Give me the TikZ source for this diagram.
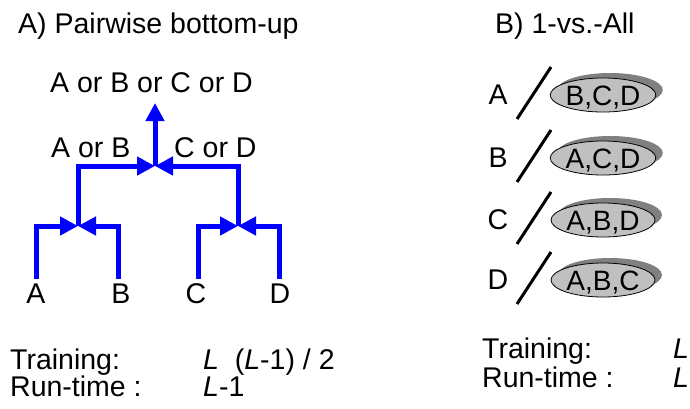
\documentclass[tikz,border=0pt]{standalone}
\usepackage{fontspec}
\setmainfont{Liberation Sans}
\usetikzlibrary{arrows.meta,shapes.geometric,shadows}
\begin{document}
\begin{tikzpicture}[x=1pt,y=-1pt,
  txt/.style={inner sep=0pt,font=\fontsize{28.5}{28.5}\selectfont},
  flow/.style={draw={rgb,255:red,0;green,0;blue,255},line width=5pt,line join=miter,
    -{Triangle[length=18pt,width=18pt]}},
  slashln/.style={draw=black,line width=3pt},
  setell/.style={ellipse,draw=black,line width=0.8pt,fill={rgb,255:red,192;green,192;blue,192},
    minimum width=104pt,minimum height=34pt,inner sep=0pt,text height=20pt,text depth=0pt,
    font=\fontsize{28}{28}\selectfont,
    general shadow={fill={rgb,255:red,128;green,128;blue,128},shadow xshift=7pt,shadow yshift=5pt}}
]
\useasboundingbox (0,0) rectangle (690,408);
\fill[white] (0,0) rectangle (690,408);

% titles
\node[txt,anchor=base west] (tA) at (18,33) {A) Pairwise bottom-up};
\node[txt,anchor=base west] (tB) at (495,33) {B) 1-vs.-All};

% left tree labels
\node[txt,anchor=base] (la) at (36,303) {A};
\node[txt,anchor=base] (lb) at (121,303) {B};
\node[txt,anchor=base] (lc) at (196,303) {C};
\node[txt,anchor=base] (ld) at (280,303) {D};
\node[txt,anchor=base west] (lab) at (51,157) {A or B};
\node[txt,anchor=base west] (lcd) at (174,157) {C or D};
\node[txt,anchor=base] (lall) at (151.5,92) {A or B or C or D};

% tree points
\coordinate (pa) at (36,279);
\coordinate (pb) at (118,279);
\coordinate (pc) at (198,279);
\coordinate (pd) at (279,279);
\coordinate (j1) at (78,226);
\coordinate (j2) at (238,226);
\coordinate (j3) at (155,166);
\coordinate (jtop) at (155,103);

\draw[flow] (pa) |- (j1);
\draw[flow] (pb) |- (j1);
\draw[flow] (pc) |- (j2);
\draw[flow] (pd) |- (j2);
\draw[flow] (j1) |- (j3);
\draw[flow] (j2) |- (j3);
\draw[flow] (j3) -- (jtop);

% right panel
\foreach \nm/\lt/\st/\y in {ra/A/{B,C,D}/95, rb/B/{A,C,D}/158, rc/C/{A,B,D}/220, rd/D/{A,B,C}/280}{
  \node[txt,anchor=center] (\nm) at (498,\y) {\lt};
  \node[setell] (e\nm) at (603,\y) {\st};
  \draw[slashln] (517,\y+24) -- (551,\y-28);
}

% bottom text
\node[txt,anchor=base west] (trL) at (10,369) {Training:};
\node[txt,anchor=base west] (rtL) at (10,396) {Run-time :};
\node[txt,anchor=base west] (trLv) at (203,369) {\textit{L}\ \ (\textit{L}-1) / 2};
\node[txt,anchor=base west] (rtLv) at (203,396) {\textit{L}-1};
\node[txt,anchor=base west] (trR) at (482,358) {Training:};
\node[txt,anchor=base west] (rtR) at (482,387) {Run-time :};
\node[txt,anchor=base west] (trRv) at (673,358) {\textit{L}};
\node[txt,anchor=base west] (rtRv) at (673,387) {\textit{L}};
\end{tikzpicture}
\end{document}
